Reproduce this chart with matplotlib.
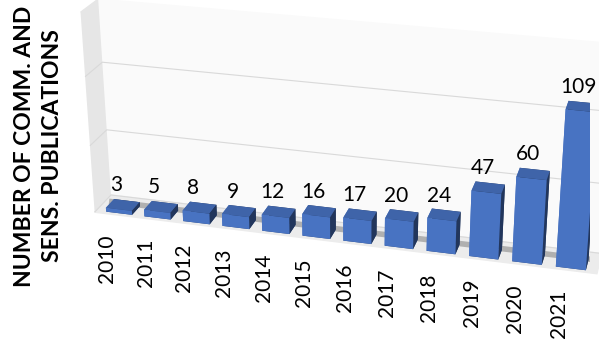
import matplotlib.pyplot as plt
import numpy as np
from mpl_toolkits.mplot3d import proj3d

# data
years = ['2010', '2011', '2012', '2013', '2014', '2015',
         '2016', '2017', '2018', '2019', '2020', '2021']
values = [3, 5, 8, 9, 12, 16, 17, 20, 24, 47, 60, 109]
zticks = [0, 50, 100]

plt.rcParams['font.family'] = ['Lato', 'DejaVu Sans']

fig = plt.figure(figsize=(5.99, 3.41), dpi=100)
ax = fig.add_axes([0.058, -0.16, 1.0, 1.5], projection='3d',
                  proj_type='persp', focal_length=0.55)

xs = np.arange(len(years))
ax.bar3d(xs - 0.34, 0.1, 0, 0.68, 0.5, values,
         color='#5282DC', shade=True, edgecolor='none')
# soft shadow on the floor behind the bars
ax.plot([-0.5, len(years) - 0.5], [0.65, 0.65], [0, 0],
        color='#404040', lw=4, alpha=0.35, solid_capstyle='butt')

ax.set_xlim(-0.6, len(years) - 0.4)
ax.set_ylim(0, 1.0)
ax.set_zlim(0, 145)
ax.set_box_aspect((12, 1.0, 5.05), zoom=1.09)
ax.view_init(elev=23, azim=-75)

# walls and floor
ax.xaxis.set_pane_color('#e6e6e6')
ax.yaxis.set_pane_color('#fafafa')
ax.zaxis.set_pane_color('#ececec')
for a in (ax.xaxis, ax.yaxis, ax.zaxis):
    a.line.set_color((1, 1, 1, 0))
    a._axinfo['tick']['inward_factor'] = 0
    a._axinfo['tick']['outward_factor'] = 0
    a._axinfo['grid']['color'] = '#d9d9d9'
    a._axinfo['grid']['linewidth'] = 0.8
ax.set_xticks([])
ax.set_yticks([])
ax.set_zticks(zticks)
ax.set_zticklabels([])

# labels placed at projected bar positions
fig.canvas.draw()
for x, v, yr in zip(xs, values, years):
    bx, by, _ = proj3d.proj_transform(x, 0.1, 0, ax.M)
    tx, ty, _ = proj3d.proj_transform(x, 0.1, v, ax.M)
    ax.annotate(str(v), xy=(tx, ty), xytext=(-3, 18), textcoords='offset pixels',
                ha='center', va='baseline', fontsize=15)
    ax.annotate(yr, xy=(bx, by), xytext=(-12, -21), textcoords='offset pixels',
                ha='center', va='top', rotation=90, fontsize=15)

fig.text(0.064, 0.572, 'NUMBER OF COMM. AND\nSENS. PUBLICATIONS', rotation=90,
         ha='center', va='center', fontsize=16.5, fontweight='bold',
         linespacing=1.4)

fig.savefig('out.png', dpi=100)
